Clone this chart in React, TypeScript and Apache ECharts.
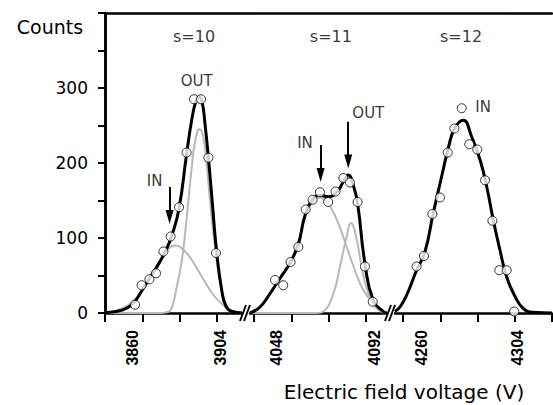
import React, { useEffect, useRef } from "react";
import * as echarts from "echarts";

// ---------- data ----------
const yTickLabels = [0, 100, 200, 300];
const xLabels1 = [3860, 3904];
const xLabels2 = [4048, 4092];
const xLabels3 = [4260, 4304];
const xTickSlots = 12;

// s = 10
const points1 = [[3861.5, 11], [3864.8, 37], [3868.7, 45], [3872, 53], [3875.7, 82], [3879.3, 102], [3883.5, 141], [3887.3, 214], [3891, 285], [3894.5, 285], [3898.2, 207], [3902, 80]];
const fit1 = [[3846.5, 0.5], [3852, 2], [3857, 6], [3861, 14], [3865, 30], [3869, 47], [3873, 64], [3877, 84], [3880, 104], [3883.5, 139], [3887.3, 212], [3889.9, 258], [3892, 283], [3893.5, 288], [3895, 282], [3896.5, 252], [3898.2, 207], [3900, 152], [3902.3, 82], [3904.9, 30], [3907, 9], [3910, 2], [3915, 0]];
const inPeak1 = [[3846.5, 1], [3855, 6], [3862, 20], [3868, 43], [3873, 66], [3877, 82], [3880, 89], [3882, 90], [3885, 86], [3889, 74], [3893, 57], [3897, 39], [3901, 23], [3905, 12], [3909, 4], [3913, 1], [3915, 0.5]];
const outPeak1 = [[3846.5, 0], [3875, 0], [3877, 1], [3879, 3], [3880.5, 12], [3882.4, 35], [3884.9, 70], [3886.5, 105], [3888.2, 150], [3889.9, 195], [3891.5, 228], [3893.7, 245], [3895.7, 234], [3897.4, 196], [3899, 150], [3901.5, 88], [3904, 42], [3906.5, 15], [3910, 3], [3915, 0]];

// s = 11
const points2 = [[4047.1, 44], [4050.8, 37], [4054.1, 68], [4057.6, 88], [4060.9, 138], [4064, 151], [4067.3, 161], [4071, 148], [4074.3, 162], [4077.8, 180], [4080.8, 174], [4084.2, 148], [4087.5, 62], [4091, 15]];
const fit2 = [[4035.9, 0], [4040.4, 8], [4044.9, 26], [4049.3, 46], [4054.1, 68], [4057.6, 92], [4060.6, 130], [4064, 151], [4067.3, 157], [4071, 155], [4074.8, 161], [4077.8, 175], [4080, 184], [4082.3, 170], [4084.2, 146], [4087.5, 66], [4091.2, 17], [4095.7, 2], [4097.4, 0]];
const inPeak2 = [[4035.9, 0], [4040.4, 8], [4044.9, 26], [4049.3, 46], [4054.1, 68], [4057.6, 92], [4060.6, 128], [4064, 148], [4067, 154], [4069.5, 151], [4071.8, 143], [4075.5, 120], [4079.3, 88], [4083, 57], [4086.7, 31], [4091.2, 13], [4095.7, 3], [4097.4, 1]];
const outPeak2 = [[4035.9, 0], [4066, 0], [4068.8, 2], [4073.3, 26], [4076.3, 62], [4079.3, 102], [4081.2, 120], [4083.5, 102], [4086, 62], [4089, 26], [4092.8, 6], [4095.7, 1], [4097.4, 0]];

// s = 12
const points3 = [[4257.5, 62], [4260.9, 76], [4264.8, 132], [4268.3, 154], [4271.9, 214], [4275, 246], [4278.4, 273], [4281.9, 225], [4285.6, 218], [4289.2, 177], [4292.6, 123], [4295.8, 57], [4299.2, 57], [4302.7, 2]];
const fit3 = [[4247.5, 2], [4249.8, 8], [4252.9, 24], [4257.5, 57], [4261.4, 82], [4265.2, 133], [4269.1, 182], [4272.2, 220], [4275.1, 246], [4279.1, 257], [4283, 235], [4286.9, 204], [4290, 168], [4293, 124], [4296.1, 84], [4299.2, 48], [4303.1, 22], [4306.9, 6], [4311.5, 1], [4320.2, 0]];

// annotations [text, voltage, counts]
const notes1: [string, number, number][] = [["s=10", 3891, 369], ["OUT", 3892.3, 309], ["IN", 3871.3, 176]];
const notes2: [string, number, number][] = [["s=11", 4072.2, 369], ["IN", 4060.6, 227], ["OUT", 4089, 267]];
const notes3: [string, number, number][] = [["s=12", 4278.1, 369], ["IN", 4288.3, 275]];
// arrows [voltage, from counts, to counts]
const arrows1 = [[3878.8, 168, 128]];
const arrows2 = [[4067.6, 224, 184], [4080, 255, 202]];
const arrows3: number[][] = [];

const FONT = '"DejaVu Sans", Verdana, sans-serif';

export default function App() {
  const ref = useRef<HTMLDivElement>(null);
  useEffect(() => {
    if (!ref.current) return;
    const chart = echarts.init(ref.current, null, { renderer: "svg" });

    const ranges = [[3846.5, 3915], [4035.9, 4097.4], [4247.5, 4320.2]];
    const labels = [xLabels1, xLabels2, xLabels3];
    const grids = [
      { left: 105, top: 13, width: 137, height: 300 },
      { left: 250, top: 13, width: 137, height: 300 },
      { left: 395, top: 13, width: 157, height: 300 },
      { left: 105, top: 13, width: 447, height: 300 },
    ];

    const xAxis: any[] = ranges.map((r, i) => ({
      type: "value",
      gridIndex: i,
      min: r[0],
      max: r[1],
      axisLine: { show: true, onZero: false, lineStyle: { color: "#000", width: 2.5 } },
      axisTick: { show: false },
      splitLine: { show: false },
      axisLabel: {
        show: true,
        customValues: labels[i],
        formatter: (v: number) => String(v),
        rotate: 90,
        margin: 17,
        color: "#000",
        fontFamily: '"Liberation Sans", Arial, sans-serif',
        fontWeight: "bold",
        fontSize: 16,
      },
    }));
    xAxis.push({
      type: "value",
      gridIndex: 3,
      min: 0,
      max: xTickSlots,
      interval: 1,
      axisLine: { show: false },
      axisTick: { show: true, length: 9, lineStyle: { color: "#000", width: 2 } },
      axisLabel: { show: false },
      splitLine: { show: false },
    });
    xAxis.push({
      type: "value",
      gridIndex: 3,
      position: "top",
      min: 0,
      max: xTickSlots,
      axisLine: { show: true, lineStyle: { color: "#000", width: 2.5 } },
      axisTick: { show: false },
      axisLabel: { show: false },
      splitLine: { show: false },
    });

    const yAxis: any[] = [
      {
        type: "value",
        gridIndex: 0,
        min: 0,
        max: 400,
        interval: 50,
        axisLine: { show: true, lineStyle: { color: "#000", width: 2.5 } },
        axisTick: { show: true, length: 7, lineStyle: { color: "#000", width: 2 } },
        axisLabel: {
          customValues: yTickLabels,
          formatter: (v: number) => String(v),
          margin: 17,
          color: "#000",
          fontFamily: FONT,
          fontSize: 17,
        },
        splitLine: { show: false },
      },
      { type: "value", gridIndex: 1, min: 0, max: 400, show: false },
      { type: "value", gridIndex: 2, min: 0, max: 400, show: false },
      {
        type: "value",
        gridIndex: 3,
        position: "right",
        min: 0,
        max: 400,
        axisLine: { show: true, lineStyle: { color: "#000", width: 2.5 } },
        axisTick: { show: false },
        axisLabel: { show: false },
        splitLine: { show: false },
      },
    ];

    const gray = (data: number[][], i: number) => ({
      type: "line",
      xAxisIndex: i,
      yAxisIndex: i,
      data,
      smooth: true,
      symbol: "none",
      silent: true,
      z: 2,
      lineStyle: { color: "#b8b8b8", width: 2 },
    });
    const black = (data: number[][], i: number) => ({
      type: "line",
      xAxisIndex: i,
      yAxisIndex: i,
      data,
      smooth: true,
      symbol: "none",
      silent: true,
      z: 3,
      lineStyle: { color: "#000", width: 3 },
    });
    const dots = (data: number[][], i: number) => ({
      type: "scatter",
      xAxisIndex: i,
      yAxisIndex: i,
      data,
      symbol: "circle",
      symbolSize: 9,
      silent: true,
      z: 5,
      itemStyle: { color: "#fff", borderColor: "#000", borderWidth: 1 },
    });
    const notes = (list: [string, number, number][], arrows: number[][], i: number) => ({
      type: "scatter",
      xAxisIndex: i,
      yAxisIndex: i,
      symbolSize: 1,
      silent: true,
      z: 6,
      itemStyle: { color: "transparent" },
      data: list.map(([t, v, c]) => ({
        name: t,
        value: [v, c],
        label: t.startsWith("s=") ? { fontSize: 16 } : { fontSize: 15 },
      })),
      label: {
        show: true,
        position: "inside",
        formatter: "{b}",
        color: "#000",
        fontFamily: FONT,
        fontSize: 15,
      },
      markLine: {
        silent: true,
        symbol: ["none", "triangle"],
        symbolSize: [8, 14],
        label: { show: false },
        lineStyle: { color: "#000", width: 2, type: "solid" },
        data: arrows.map(([v, a, b]) => [{ coord: [v, a] }, { coord: [v, b] }]),
      },
    });

    const series: any[] = [
      gray(inPeak1, 0), gray(outPeak1, 0), black(fit1, 0), dots(points1, 0), notes(notes1, arrows1, 0),
      gray(inPeak2, 1), gray(outPeak2, 1), black(fit2, 1), dots(points2, 1), notes(notes2, arrows2, 1),
      black(fit3, 2), dots(points3, 2), notes(notes3, arrows3, 2),
    ];

    const slash = (x1: number, y1: number, x2: number, y2: number) => ({
      type: "line",
      shape: { x1, y1, x2, y2 },
      style: { stroke: "#000", lineWidth: 2 },
      z: 10,
    });

    chart.setOption({
      animation: false,
      backgroundColor: "#fff",
      grid: grids,
      xAxis,
      yAxis,
      series,
      graphic: [
        { type: "text", x: 50, y: 27, style: { text: "Counts", fontSize: 19, fontFamily: FONT, fill: "#000", align: "center", verticalAlign: "middle" } },
        { type: "text", x: 404, y: 392, style: { text: "Electric field voltage (V)", fontSize: 20, fontFamily: FONT, fill: "#000", align: "center", verticalAlign: "middle" } },
        slash(240, 321, 246, 305),
        slash(244, 321, 250, 305),
        slash(385, 321, 391, 305),
        slash(389, 321, 395, 305),
      ],
    });
    return () => chart.dispose();
  }, []);
  return <div ref={ref} style={{ position: "fixed", left: 0, top: 0, width: 553, height: 405, background: "#fff" }} />;
}
